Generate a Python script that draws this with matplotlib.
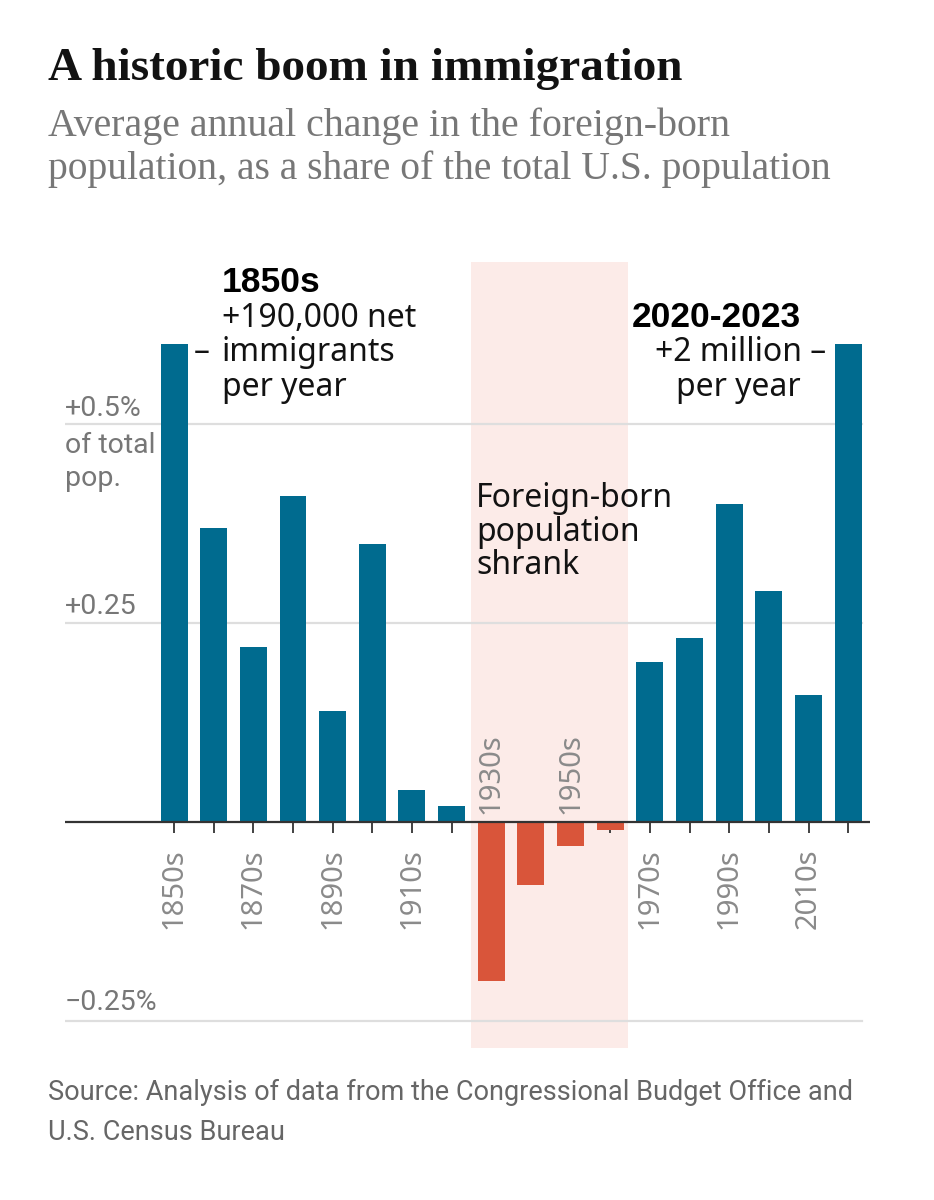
import matplotlib
matplotlib.use("Agg")
import matplotlib.pyplot as plt

# data (share of total US population, percent)
decades = ["1850s", "1860s", "1870s", "1880s", "1890s", "1900s", "1910s", "1920s",
           "1930s", "1940s", "1950s", "1960s", "1970s", "1980s", "1990s", "2000s",
           "2010s", "2020-2023"]
change = [0.600, 0.369, 0.220, 0.410, 0.139, 0.349, 0.040, 0.020,
          -0.200, -0.079, -0.030, -0.010, 0.201, 0.231, 0.399, 0.290,
          0.160, 0.600]
labels_below = ["1850s", "1870s", "1890s", "1910s", "1970s", "1990s", "2010s"]
labels_above = ["1930s", "1950s"]
shrank = ["1930s", "1960s"]   # shaded period

W, H = 934, 1200
BLUE = "#006b8f"
RED = "#d9553a"
SHADE = "#fcebe8"
GRID = "#dedede"
GREY = "#8a8a8a"

SANS = ["Noto Sans", "DejaVu Sans"]
BOLD = ["Liberation Sans", "DejaVu Sans"]
NARROW = ["Liberation Sans Narrow", "Roboto", "DejaVu Sans"]
SERIF = ["Liberation Serif", "DejaVu Serif"]


def fx(x):
    return x / W


def fy(y):
    return 1 - y / H


fig = plt.figure(figsize=(W / 100, H / 100), dpi=100)

# header
fig.text(fx(48), fy(80), "A historic boom in immigration", family=SERIF,
         weight="bold", fontsize=34, color="#121212", va="baseline")
fig.text(fx(48), fy(136), "Average annual change in the foreign-born",
         family=SERIF, fontsize=28.7, color="#777777", va="baseline")
fig.text(fx(48), fy(179), "population, as a share of the total U.S. population",
         family=SERIF, fontsize=28.5, color="#777777", va="baseline")

# axes placed on pixel positions of the reference
ax = fig.add_axes([fx(65), fy(1048), fx(870 - 65), (1048 - 262) / H])
x = list(range(len(decades)))
ax.set_xlim(-2.75, 17.55)
ax.set_ylim(-0.284, 0.7035)

i0 = decades.index(shrank[0]) - 0.5
i1 = decades.index(shrank[1]) + 0.45
ax.axvspan(i0, i1, color=SHADE, zorder=0, lw=0)

for g in [0.5, 0.25, -0.25]:
    ax.axhline(g, xmin=0, xmax=0.99, color=GRID, lw=1.6, zorder=1)

colors = [BLUE if v > 0 else RED for v in change]
ax.bar(x, change, width=0.68, color=colors, zorder=2)
ax.axhline(0, color="#333333", lw=1.6, zorder=3)

# ticks sit on the zero line
ax.spines["bottom"].set_position(("data", 0))
for s in ax.spines.values():
    s.set_visible(False)
ax.set_yticks([])
ax.set_xticks(x)
ax.set_xticklabels([d if d in labels_below else "" for d in decades],
                   rotation=90, family=SANS, fontsize=21, color=GREY)
ax.tick_params(axis="x", length=8, width=1.3, color="#333333", pad=11)

for d in labels_above:
    ax.text(decades.index(d), 0.01, d, rotation=90, ha="center", va="bottom",
            family=SANS, fontsize=21, color=GREY, zorder=4)

# gridline labels
lab = dict(family=NARROW, fontsize=20.5, color="#777777", va="baseline")
fig.text(fx(65), fy(416), "+0.5%", **lab)
fig.text(fx(65), fy(453), "of total", **lab)
fig.text(fx(65), fy(486), "pop.", **lab)
fig.text(fx(65), fy(614), "+0.25", **lab)
fig.text(fx(65), fy(1010), "\u22120.25%", **lab)

# annotations
ann = dict(family=SANS, fontsize=23, color="#121212", va="baseline")
bld = dict(family=BOLD, weight="bold", fontsize=25.5, color="#000000",
           va="baseline")
fig.text(fx(222), fy(292), "1850s", **bld)
fig.text(fx(222), fy(327), "+190,000 net", **ann)
fig.text(fx(194), fy(361), "\u2013", **ann)
fig.text(fx(222), fy(361), "immigrants", **ann)
fig.text(fx(222), fy(396), "per year", **ann)

fig.text(fx(801), fy(327), "2020-2023", ha="right", **bld)
fig.text(fx(826), fy(361), "+2 million \u2013", ha="right", **ann)
fig.text(fx(801), fy(396), "per year", ha="right", **ann)

fig.text(fx(476), fy(507), "Foreign-born", **ann)
fig.text(fx(476), fy(541), "population", **ann)
fig.text(fx(476), fy(574), "shrank", **ann)

# source
src = dict(family=NARROW, fontsize=19.5, color="#666666", va="baseline")
fig.text(fx(48), fy(1100),
         "Source: Analysis of data from the Congressional Budget Office and", **src)
fig.text(fx(48), fy(1140), "U.S. Census Bureau", **src)

fig.savefig("out.png", dpi=100, facecolor="white")
